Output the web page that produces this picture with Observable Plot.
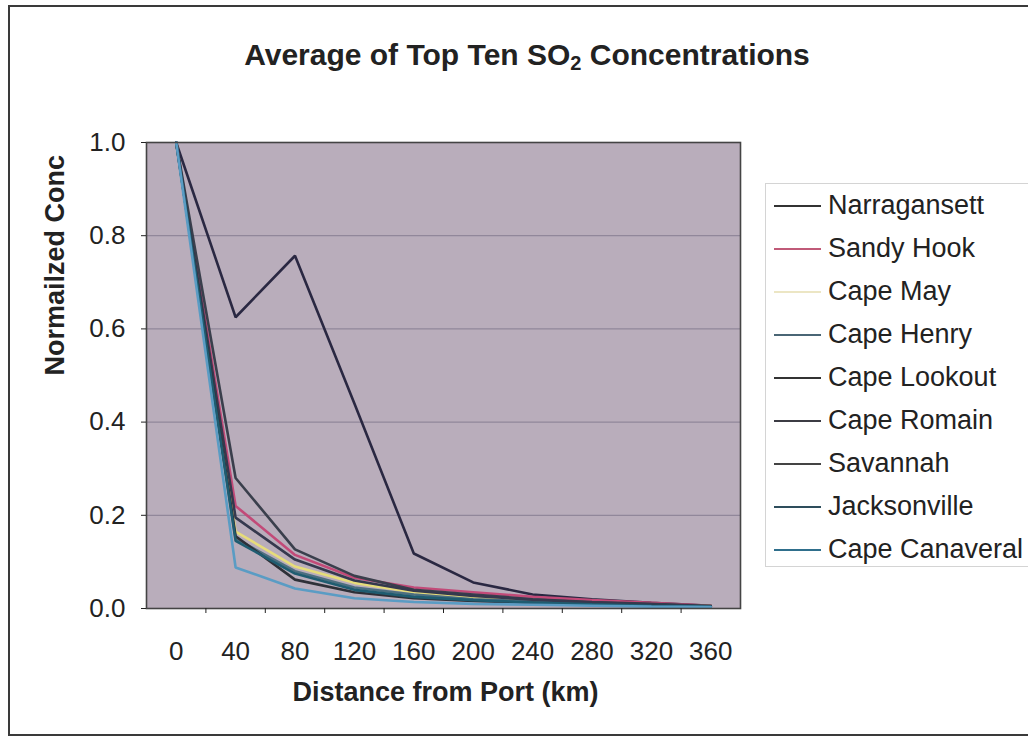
<!DOCTYPE html>
<html>
<head>
<meta charset="utf-8">
<script src="https://cdn.jsdelivr.net/npm/d3@7"></script>
<script src="https://cdn.jsdelivr.net/npm/@observablehq/plot@0.6"></script>
<style>
  html, body { margin: 0; padding: 0; background: #fff; }
  #wrap { position: relative; width: 1028px; height: 745px; overflow: hidden; background: #fff;
          font-family: "Liberation Sans", Arial, sans-serif; }
  #border { position: absolute; left: 8px; top: 5px; width: 1100px; height: 731px;
            border: 2px solid #3a3a3a; box-sizing: border-box; }
  #title { position: relative; height: 100px; width: 1054px; text-align: center;
           font-weight: bold; font-size: 30px; line-height: 34px; padding-top: 38px; box-sizing: border-box; color: #222; }
  #title sub { font-size: 20px; vertical-align: -5px; line-height: 0; }
  #legend { position: absolute; left: 765px; top: 183px; width: 300px; height: 384px;
            background: #fff; border: 1px solid #d4d4d4; box-sizing: border-box; padding-top: 0px; }
  .row { display: flex; align-items: center; height: 43px; padding-left: 8px; }
  .sw { width: 47px; height: 2px; margin-right: 7px; }
  .lab { font-size: 27px; color: #222; white-space: nowrap; }
</style>
</head>
<body>
<div id="wrap">
  <div id="border"></div>
  <div id="title">Average of Top Ten SO<sub>2</sub> Concentrations</div>
  <div id="chart"></div>
  <div id="legend"></div>
</div>
<script>
// Categories (distance from port, km)
const distances = [0, 40, 80, 120, 160, 200, 240, 280, 320, 360];
const sites = ["Narragansett", "Sandy Hook", "Cape May", "Cape Henry", "Cape Lookout",
               "Cape Romain", "Savannah", "Jacksonville", "Cape Canaveral"];
const siteColors = ["#2a2842", "#c24a78", "#e6dc7a", "#4d6f80", "#3a3f4c",
                    "#35394e", "#2e3038", "#1f5c70", "#5a9cc4"];
const legendColors = ["#333333", "#c05a78", "#ece6c4", "#4a6675", "#333333",
                      "#3c3c44", "#444444", "#2e4e5c", "#2f6f8c"];

// Series values (normalized concentration)
const narragansett  = [1.0, 0.625, 0.757, 0.44, 0.118, 0.056, 0.030, 0.020, 0.012, 0.006];
const sandyHook     = [1.0, 0.220, 0.115, 0.066, 0.045, 0.035, 0.025, 0.018, 0.012, 0.006];
const capeMay       = [1.0, 0.165, 0.090, 0.055, 0.035, 0.025, 0.018, 0.012, 0.008, 0.005];
const capeHenry     = [1.0, 0.150, 0.080, 0.045, 0.030, 0.020, 0.015, 0.010, 0.007, 0.004];
const capeLookout   = [1.0, 0.280, 0.127, 0.070, 0.040, 0.030, 0.020, 0.014, 0.010, 0.005];
const capeRomain    = [1.0, 0.195, 0.105, 0.060, 0.038, 0.027, 0.019, 0.013, 0.009, 0.005];
const savannah      = [1.0, 0.155, 0.062, 0.035, 0.022, 0.016, 0.012, 0.008, 0.006, 0.004];
const jacksonville  = [1.0, 0.145, 0.075, 0.040, 0.025, 0.018, 0.013, 0.009, 0.006, 0.004];
const capeCanaveral = [1.0, 0.088, 0.043, 0.022, 0.014, 0.010, 0.008, 0.006, 0.004, 0.003];

const yTicks = [0, 0.2, 0.4, 0.6, 0.8, 1.0];
const gridTicks = [0.2, 0.4, 0.6, 0.8];
const boundaryTicks = [20, 60, 100, 140, 180, 220, 260, 300, 340];

const seriesList = [narragansett, sandyHook, capeMay, capeHenry, capeLookout,
                    capeRomain, savannah, jacksonville, capeCanaveral];
const data = [];
sites.forEach((s, i) => seriesList[i].forEach((v, j) => data.push({site: s, dist: distances[j], value: v})));

const chart = Plot.plot({
  width: 1028,
  height: 645,
  marginTop: 42,
  marginBottom: 137,
  marginLeft: 146,
  marginRight: 288,
  style: {fontFamily: "'Liberation Sans', Arial, sans-serif", fontSize: "26px", background: "transparent", color: "#222", overflow: "visible"},
  x: {domain: [-20, 380]},
  y: {domain: [0, 1]},
  color: {domain: sites, range: siteColors},
  marks: [
    Plot.frame({fill: "#b9adbb"}),
    Plot.ruleY(gridTicks, {stroke: "#91879a", strokeWidth: 1.2}),
    Plot.line(data, {x: "dist", y: "value", z: "site", stroke: "site", strokeWidth: 2.6, strokeLinejoin: "miter"}),
    Plot.frame({stroke: "#444", strokeWidth: 1.6}),
    Plot.axisY({ticks: yTicks, tickFormat: d => d.toFixed(1), tickSize: 5, tickPadding: 16, fontSize: 26, label: null}),
    Plot.axisX({ticks: boundaryTicks, tickSize: 5, tickFormat: () => "", label: null}),
    Plot.axisX({ticks: distances, tickSize: 0, tickPadding: 33, fontSize: 26, tickFormat: d => String(d), label: null}),
    Plot.text(["Normailzed Conc"], {text: d => d, frameAnchor: "left", rotate: -90, dx: -91, fontSize: 27, fontWeight: "bold", fill: "#222"}),
    Plot.text(["Distance from Port (km)"], {text: d => d, frameAnchor: "bottom", dy: 92, dx: 2, fontSize: 27, fontWeight: "bold", fill: "#222"})
  ]
});
document.getElementById("chart").appendChild(chart);

const legend = document.getElementById("legend");
sites.forEach((s, i) => {
  const row = document.createElement("div");
  row.className = "row";
  const sw = document.createElement("span");
  sw.className = "sw";
  sw.style.background = legendColors[i];
  const lab = document.createElement("span");
  lab.className = "lab";
  lab.textContent = s;
  row.appendChild(sw);
  row.appendChild(lab);
  legend.appendChild(row);
});
</script>
</body>
</html>
